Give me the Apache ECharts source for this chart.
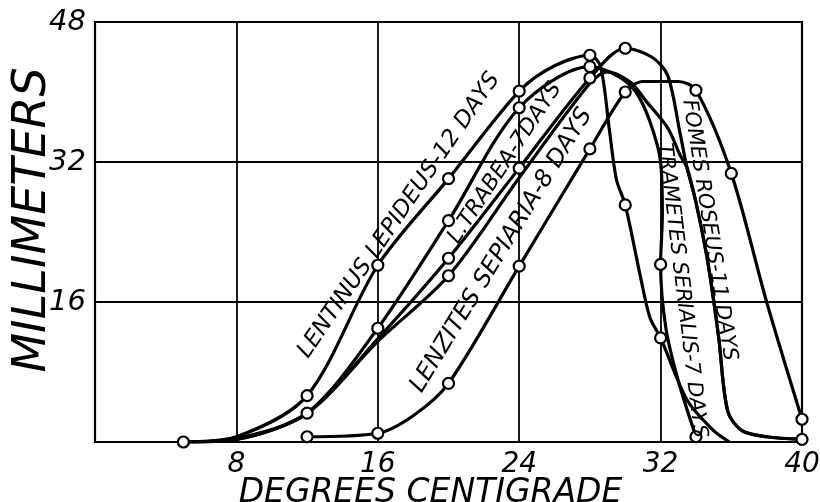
<!DOCTYPE html>
<html><head><meta charset="utf-8">
<script src="https://cdn.jsdelivr.net/npm/echarts@6/dist/echarts.min.js"></script>
<style>html,body{margin:0;padding:0;background:#fff}#c{width:820px;height:502px}</style>
</head><body><div id="c"></div>
<script>
// ---- data (x: degrees C, y: mm) ----
const xTicks = [8, 16, 24, 32, 40];
const yTicks = [16, 32, 48];

const lentinusObs  = [[5,0],[12,5.3],[16,20.2],[20,30.1],[24,40.1],[28,44.2],[30,27.1],[32,11.9]];
const lentinusLine = [[5,0],[8,0.6],[12,5.3],[16,20.2],[20,30.1],[24,40.1],[26,43],[28,44.2],[28.6,42.9],[29.1,35.7],[29.5,30],[30,27.1],[30.9,18.5],[31.4,14.2],[32,11.9],[33.5,4.8],[35,1.3],[35.9,0]];

const trabeaObs  = [[12,3.3],[16,13.0],[20,25.3],[24,38.2],[28,42.9],[32,20.3],[34,0.6]];
const trabeaLine = [[5,0],[8,0.4],[12,3.3],[16,13.0],[20,25.3],[24,38.2],[28,42.9],[29.6,41.8],[30.6,40],[31.4,36.6],[32,32],[32.1,26],[32,20.3],[32.3,13],[33,7],[34,0.6]];

const fomesObs  = [[20,21.0],[24,31.3],[28,41.6],[30,45.0],[40,0.3]];
const fomesLine = [[5,0],[8,0.3],[12,3.3],[16,11.8],[20,21.0],[24,31.3],[28,41.6],[30,45.0],[31.5,44],[32.4,41.9],[33.1,35.3],[33.5,31.3],[34,27.4],[34.6,21.4],[35,16.2],[35.3,11.7],[35.8,3.5],[36.6,1.3],[38,0.6],[40,0.3]];

const serialisObs  = [[20,19.0]];
const serialisLine = [[5,0],[8,0.3],[12,3.3],[16,11.5],[20,19.0],[24,30.2],[28,41],[29,42.3],[30.3,41.1],[31.2,38.9],[32.4,35.9],[33.1,32.8],[33.5,31.3],[34,27.4],[34.6,21.4],[35,16.2],[35.3,11.7],[35.8,3.5],[36.6,1.3],[38,0.6],[40,0.3]];

const sepiariaObs  = [[12,0.6],[16,1.0],[20,6.7],[24,20.1],[28,33.5],[30,40],[34,40.2],[36,30.7],[40,2.6]];
const sepiariaLine = [[12,0.6],[16,1.0],[18,3],[20,6.7],[24,20.1],[28,33.5],[30,40],[31,41.2],[33,41.2],[34,40.2],[36,30.7],[38,16],[40,2.6]];

const curveNames = ['LENTINUS LEPIDEUS-12 DAYS','L.TRABEA-7DAYS','LENZITES SEPIARIA-8 DAYS','TRAMETES SERIALIS-7 DAYS','FOMES ROSEUS-11 DAYS'];

// ---- chart ----
const chart = echarts.init(document.getElementById('c'), null, {renderer:'canvas'});
const FONT = 'DejaVu Sans';
const lineStyle = {color:'#000', width:3.2};
function lineSeries(d){ return {type:'line', data:d, smooth:0.3, symbol:'none', lineStyle:lineStyle, z:3, animation:false, silent:true}; }
function obsSeries(d){ return {type:'scatter', data:d, symbol:'circle', symbolSize:11,
  itemStyle:{color:'#ffffff', opacity:1, borderColor:'#000', borderWidth:2.2}, z:5, animation:false}; }

chart.setOption({
  animation:false,
  backgroundColor:'#fff',
  grid:{left:95, right:18, top:22, bottom:60, show:true, borderColor:'#000', borderWidth:2.2,
        containLabel:false, outerBoundsMode:'none'},
  xAxis:{type:'value', min:0, max:40, interval:8,
    name:'DEGREES CENTIGRADE', nameLocation:'middle', nameGap:35, nameMoveOverlap:false,
    nameTextStyle:{fontFamily:FONT, fontStyle:'italic', fontSize:33, color:'#000', padding:[0,36,0,0]},
    axisLine:{show:false}, axisTick:{show:false},
    splitLine:{show:true, lineStyle:{color:'#000', width:1.8}},
    axisLabel:{margin:9, fontFamily:FONT, fontStyle:'italic', fontSize:28, color:'#000',
      formatter:v=> xTicks.indexOf(v)>=0 ? String(v) : ''}},
  yAxis:{type:'value', min:0, max:48, interval:16,
    name:'MILLIMETERS', nameLocation:'middle', nameGap:39, nameRotate:90, nameMoveOverlap:false,
    nameTextStyle:{fontFamily:FONT, fontStyle:'italic', fontSize:46, color:'#000', padding:[0,0,0,24]},
    axisLine:{show:false}, axisTick:{show:false},
    splitLine:{show:true, lineStyle:{color:'#000', width:1.8}},
    axisLabel:{margin:9, fontFamily:FONT, fontStyle:'italic', fontSize:29, color:'#000', verticalAlign:'middle',
      formatter:v=> yTicks.indexOf(v)>=0 ? String(v) : ''}},
  series:[
    lineSeries(lentinusLine), lineSeries(trabeaLine), lineSeries(fomesLine), lineSeries(serialisLine), lineSeries(sepiariaLine),
    obsSeries(lentinusObs), obsSeries(trabeaObs), obsSeries(fomesObs), obsSeries(serialisObs), obsSeries(sepiariaObs)
  ]
});

// curve labels placed along curves (anchor in data coords, angle in degrees, size)
const labelLayout = [
  {text:curveNames[0], at:[17.2,25.9], rot:55.6, size:23},
  {text:curveNames[1], at:[23.2,31.9], rot:56.5, size:22},
  {text:curveNames[2], at:[23.0,21.9], rot:58.6, size:24},
  {text:curveNames[3], at:[33.2,17.3], rot:-83, size:21},
  {text:curveNames[4], at:[34.75,24.2], rot:-81, size:21}
];
chart.setOption({graphic: labelLayout.map(l=>{
  const p = chart.convertToPixel({gridIndex:0}, l.at);
  return {type:'text', x:p[0], y:p[1], rotation:l.rot*Math.PI/180, z:10,
    style:{text:l.text, fontFamily:FONT, fontStyle:'italic', fontSize:l.size, fill:'#000', align:'center', verticalAlign:'middle'}};
})});
</script></body></html>
